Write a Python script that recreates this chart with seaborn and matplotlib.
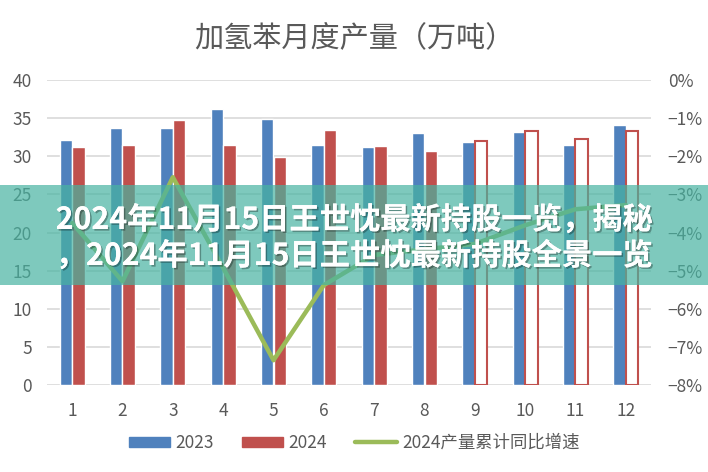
import matplotlib
matplotlib.use('Agg')
import matplotlib.pyplot as plt
import matplotlib.patheffects as pe
from matplotlib.patches import Patch, Rectangle
from matplotlib.lines import Line2D
import numpy as np
import pandas as pd
import seaborn as sns

# data
months = ['1', '2', '3', '4', '5', '6', '7', '8', '9', '10', '11', '12']
output_2023 = [32.1, 33.7, 33.7, 36.2, 34.9, 31.5, 31.2, 33.0, 31.9, 33.2, 31.5, 34.1]
output_2024 = [31.2, 31.5, 34.75, 31.5, 29.9, 33.4, 31.4, 30.7, 32.0, 33.3, 32.2, 33.3]
growth_2024 = [-3.75, -5.28, -2.55, -4.93, -7.35, -5.38, -4.59, -4.44, -4.30, -3.81, -3.39, -3.28]
hollow_months = ['9', '10', '11', '12']
series_names = ['2023', '2024', '2024产量累计同比增速']
title = '加氢苯月度产量（万吨）'
banner_lines = ['2024年11月15日王世忱最新持股一览，揭秘',
                '，2024年11月15日王世忱最新持股全景一览']

BLUE = '#4f81bd'
RED = '#c0504d'
GREEN = '#9bbb59'
GREY = '#595959'
FONTS = ['Noto Sans CJK SC', 'DejaVu Sans']

sns.set_style('white')
plt.rcParams['font.family'] = FONTS

df = pd.DataFrame({
    'month': months * 2,
    'year': [series_names[0]] * 12 + [series_names[1]] * 12,
    'output': output_2023 + output_2024,
})

fig, ax = plt.subplots(figsize=(7.08, 4.72), dpi=100)
fig.subplots_adjust(left=47 / 708, right=651 / 708, top=1 - 80 / 472, bottom=1 - 385 / 472)

sns.barplot(data=df, x='month', y='output', hue='year', palette=[BLUE, RED],
            width=0.5, gap=0, saturation=1, errorbar=None, legend=False, ax=ax)

# forecast months of 2024 drawn as outlined bars
for patch, m in zip(ax.patches[12:], months):
    if m in hollow_months:
        patch.set_facecolor('white')
        patch.set_edgecolor(RED)
        patch.set_linewidth(1.5)

ax.set_ylim(0, 40)
ax.set_yticks(range(0, 41, 5))
ax.set_axisbelow(True)
ax.yaxis.grid(True, color='#d9d9d9', linewidth=1.2)
ax.set_xlabel('')
ax.set_ylabel('')
ax.tick_params(axis='both', length=0, labelsize=12.5, labelcolor=GREY)
ax.tick_params(axis='y', pad=11)
ax.tick_params(axis='x', pad=12)
sns.despine(ax=ax, left=True, bottom=True)

ax2 = ax.twinx()
sns.lineplot(x=np.arange(12), y=growth_2024, color=GREEN, linewidth=3.2, ax=ax2)
ax2.set_ylim(-8, 0)
ax2.set_yticks(range(-8, 1))
ax2.set_yticklabels([f'{v}%'.replace('-', '\u2212') for v in range(-8, 1)])
ax2.tick_params(axis='y', length=0, labelsize=12.5, labelcolor=GREY, pad=12)
ax2.set_ylabel('')
sns.despine(ax=ax2, left=True, bottom=True, right=True)
ax.set_xlim(-0.5, 11.5)

fig.text(0.5, 1 - 38 / 472, title, ha='center', va='center', fontsize=21, color=GREY)

handles = [Patch(color=BLUE), Patch(color=RED), Line2D([], [], color=GREEN, lw=3.2)]
leg = fig.legend(handles, series_names, loc='center', bbox_to_anchor=(0.5, 1 - 443 / 472),
                 ncol=3, frameon=False, fontsize=12.5, handlelength=2.4, handleheight=0.55,
                 handletextpad=0.3, columnspacing=1.6)
for t in leg.get_texts():
    t.set_color(GREY)

# teal banner with headline text on top of the chart
fig.add_artist(Rectangle((0, 1 - 285 / 472), 1, 100 / 472, transform=fig.transFigure,
                         facecolor=(0.28, 0.70, 0.63), alpha=0.7, edgecolor='none', zorder=10))
shadow = [pe.withSimplePatchShadow(offset=(1.2, -1.2), shadow_rgbFace='black', alpha=0.3), pe.Normal()]
for y, line in zip([220, 256], banner_lines):
    fig.text(0.5, 1 - y / 472, line, ha='center', va='center', color='white', fontsize=21.8,
             fontweight='bold', family=FONTS, zorder=11, path_effects=shadow)

fig.savefig('out.png', dpi=100)
plt.close(fig)
